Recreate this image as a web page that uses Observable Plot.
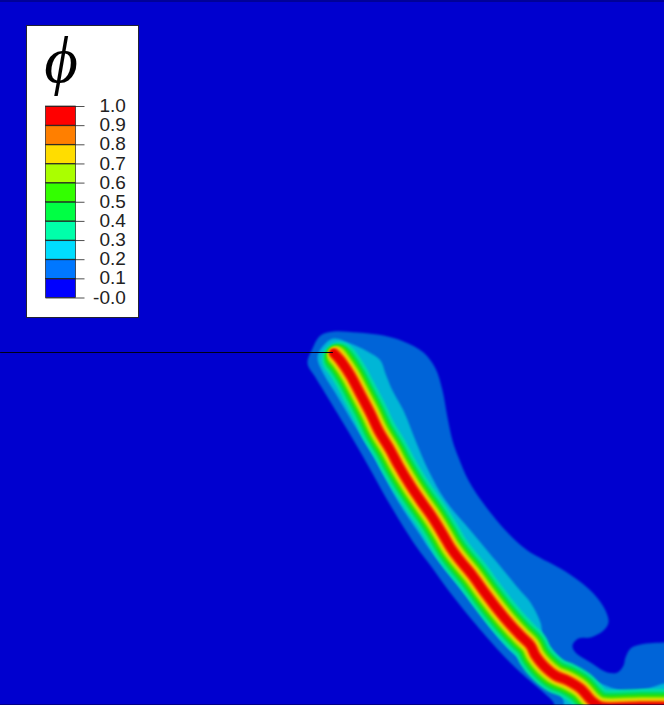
<!DOCTYPE html>
<html><head><meta charset="utf-8">
<script src="https://cdn.jsdelivr.net/npm/d3@7"></script>
<script src="https://cdn.jsdelivr.net/npm/@observablehq/plot@0.6"></script>
<style>
html,body{margin:0;padding:0;background:#fff}
#wrap{position:relative;width:664px;height:708px;overflow:hidden}
#field,#legend{position:absolute}
#field{left:0;top:0}
#legend{left:27px;top:26px;outline:1px solid #223}
</style></head><body><div id="wrap"><div id="field"></div><div id="legend"></div></div>
<script>
// Contour field
const background = "#0000cf";
const outerContour = [[320,335],[333,331],[357,332],[383,335],[403,341],[423,352],[435,368],[442,390],[447,417],[452,440],[458,457],[468,480],[483,503],[507,532],[527,550],[560,568],[578,580],[593,593],[605,610],[608,622],[603,630],[590,637],[578,638],[572,645],[575,652],[590,662],[607,672],[617,672],[623,665],[625,657],[630,648],[640,644],[664,642],[670,642],[670,712],[556,712],[553,702],[543,692],[520,672],[500,652],[472,620],[448,590],[430,565],[415,545],[390,505],[363,457],[343,423],[323,390],[315,377],[307,363],[312,348]];
const innerContour = [[333,338],[350,343],[367,351],[380,360],[385,373],[392,390],[403,410],[415,440],[428,470],[445,500],[470,530],[485,548],[500,566],[518,588],[530,602],[540,622],[543,637],[558,657],[580,671],[600,683],[623,690],[647,688],[664,683],[670,683],[670,712],[565,712],[563,700],[555,685],[533,670],[517,657],[500,640],[475,607],[450,576],[430,550],[420,535],[397,500],[373,456],[353,423],[334,391],[324,375],[317,357],[323,345]];
const ridge = [[340,360],[350,375],[358,390],[370,413],[378,430],[390,450],[398,465],[410,485],[420,500],[432,517],[443,535],[450,547],[458,558],[472,575],[485,593],[498,610],[508,622],[520,635],[530,645],[535,655],[543,665],[555,675],[567,680],[580,688],[592,701],[600,706],[640,706],[670,706]];
const crack = [[0,352],[332,352]];
const fieldColors = ["#0064d8","#00b6d6","#00e0a0","#00dc50","#30e000","#a8e400","#f4d400","#f46c00","#e80000"];
const bandWidths = [35,29,24,19,15,11.5,8.5];
const bandStarts = [[339,359],[338,358],[337,356.5],[336,355],[335,354],[334.5,353.5],[333,352.5]];

// Colour bar
const barEdges = [0,0.1,0.2,0.3,0.4,0.5,0.6,0.7,0.8,0.9];
const barColors = ["#0000ff","#0077ff","#00ddff","#00ffaa","#00ff44","#33ff00","#aaff00","#ffdd00","#ff7f00","#ff0000"];
const tickValues = [0,0.1,0.2,0.3,0.4,0.5,0.6,0.7,0.8,0.9,1];
const tickLabels = ["-0.0","0.1","0.2","0.3","0.4","0.5","0.6","0.7","0.8","0.9","1.0"];
const legendTitle = "\u03D5";

const soft = "blur(0.8px)";
const bandColors = fieldColors.slice(2);
const field = Plot.plot({
  width:664, height:705, margin:0,
  style:{background},
  x:{domain:[0,664],range:[0,664],axis:null},
  y:{domain:[0,705],range:[0,705],axis:null},
  marks:[
    Plot.line(outerContour,{x:d=>d[0],y:d=>d[1],fill:fieldColors[0],stroke:"none",curve:"catmull-rom-closed",imageFilter:soft}),
    Plot.line(innerContour,{x:d=>d[0],y:d=>d[1],fill:fieldColors[1],stroke:"none",curve:"catmull-rom-closed",imageFilter:soft}),
    ...bandWidths.map((w,i)=>Plot.line([bandStarts[i],...ridge],{x:d=>d[0],y:d=>d[1],stroke:bandColors[i],strokeWidth:w,strokeLinecap:"round",strokeLinejoin:"round",curve:"catmull-rom",imageFilter:soft})),
    Plot.line(crack,{x:d=>d[0],y:d=>d[1],stroke:"#000018",strokeWidth:1}),
    Plot.ruleY([0.5],{stroke:"#000060"}),
    Plot.ruleY([704.5],{stroke:"#000040"})
  ]
});
document.getElementById("field").append(field);

const legend = Plot.plot({
  width:111, height:291, margin:0,
  style:{background:"#fff",overflow:"visible"},
  x:{domain:[0,1],range:[18.5,48.5],axis:null},
  y:{domain:[0,1],range:[271.5,80],axis:null},
  marks:[
    Plot.rect(barEdges,{x1:0,x2:1,y1:d=>d,y2:d=>d+0.1,fill:(d,i)=>barColors[i],stroke:"#222",strokeWidth:0.7}),
    Plot.ruleY(tickValues,{x1:0,x2:1.3,stroke:"#222",strokeWidth:0.8}),
    Plot.text(tickLabels,{x:2.66,y:(d,i)=>tickValues[i],dy:-0.5,text:d=>d,textAnchor:"end",fontFamily:"Liberation Sans",fontSize:19,fill:"#222"}),
    Plot.text([legendTitle],{frameAnchor:"top",dx:-22,dy:9,text:d=>d,fontFamily:"Liberation Serif",fontStyle:"italic",fontSize:65,fill:"#000",lineAnchor:"top"})
  ]
});
document.getElementById("legend").append(legend);
</script></body></html>
